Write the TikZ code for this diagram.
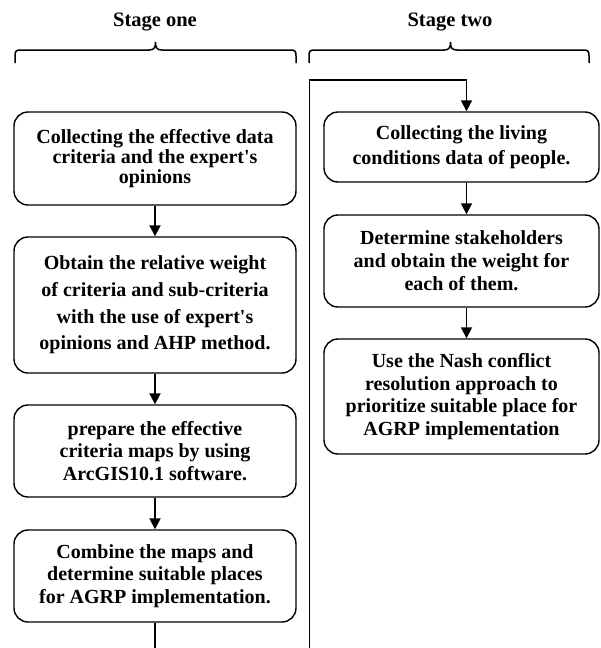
\documentclass[tikz,border=0pt]{standalone}
\usepackage{fontspec}
\setmainfont{Liberation Serif}[Ligatures=TeXOff]
\usetikzlibrary{arrows.meta,calc}
\begin{document}
\begin{tikzpicture}[x=1pt,y=-1pt,
  box/.style={draw,line width=1.4pt,rounded corners=14pt,inner sep=0pt,align=center},
  lbox/.style={box,minimum width=282pt},
  rbox/.style={box,minimum width=275pt},
  conn/.style={line width=1.8pt},
  thinconn/.style={line width=1.3pt},
  arr/.style={conn,-{Triangle[length=11pt,width=11pt]}},
  brace/.style={line width=1.5pt},
  stage/.style={font=\bfseries\fontsize{20.5}{23}\selectfont}]
\useasboundingbox (0,0) rectangle (600,648);

% stage labels
\node[stage] (s1) at (155,22) {Stage one};
\node[stage] (s2) at (450,22) {Stage two};

% braces
\draw[brace] (15,63) -- (15,56) .. controls (15,51) and (16,50) .. (21,50) -- (149,50)
  .. controls (154,50) and (155.5,48) .. (155.5,42)
  .. controls (155.5,48) and (157,50) .. (162,50) -- (290,50)
  .. controls (295,50) and (296,51) .. (296,56) -- (296,63);
\draw[brace] (309,63) -- (309,56) .. controls (309,51) and (310,50) .. (315,50) -- (444,50)
  .. controls (449,50) and (450.5,48) .. (450.5,42)
  .. controls (450.5,48) and (452,50) .. (457,50) -- (583,50)
  .. controls (588,50) and (589,51) .. (589,56) -- (589,63);

% stage one boxes
\node[lbox,minimum height=93pt,font=\bfseries\fontsize{20}{20}\selectfont] (b1) at (155,158.5)
  {Collecting the effective data\\criteria and the expert's\\opinions};
\node[lbox,minimum height=136pt,font=\bfseries\fontsize{20}{26.7}\selectfont] (b2) at (155,305)
  {Obtain the relative weight\\of criteria and sub-criteria\\with the use of expert's\\opinions and AHP method.};
\node[lbox,minimum height=92pt,font=\bfseries\fontsize{20}{22.5}\selectfont] (b3) at (155,451)
  {prepare the effective\\criteria maps by using\\ArcGIS10.1 software.};
\node[lbox,minimum height=92pt,font=\bfseries\fontsize{20}{22.5}\selectfont] (b4) at (155,576)
  {Combine the maps and\\determine suitable places\\for AGRP implementation.};

% stage two boxes
\node[rbox,minimum height=70pt,font=\bfseries\fontsize{20}{25}\selectfont] (b5) at (461.5,147)
  {Collecting the living\\conditions data of people.};
\node[rbox,minimum height=92pt,font=\bfseries\fontsize{20}{23}\selectfont] (b6) at (461.5,261)
  {Determine stakeholders\\and obtain the weight for\\each of them.};
\node[rbox,minimum height=115pt,font=\bfseries\fontsize{20}{22.5}\selectfont] (b7) at (461.5,396.5)
  {Use the Nash conflict\\resolution approach to\\prioritize suitable place for\\AGRP implementation};

% connectors
\draw[arr] (b1.south) -- (b2.north);
\draw[arr] (b2.south) -- (b3.north);
\draw[arr] (b3.south) -- (b4.north);
\coordinate (lb) at (155,648);
\draw[conn] (b4.south) -- (lb);

\coordinate (rb) at (309.5,648);
\coordinate (tl) at (309.5,80);
\coordinate (tr) at (466.5,80);
\draw[thinconn] (rb) -- (tl);
\draw[arr,line cap=rect] (tl) -- (tr) -- ($(b5.north)+(5,0)$);
\draw[arr] ($(b5.south)+(5,0)$) -- ($(b6.north)+(5,0)$);
\draw[arr] ($(b6.south)+(5,0)$) -- ($(b7.north)+(5,0)$);
\end{tikzpicture}
\end{document}
